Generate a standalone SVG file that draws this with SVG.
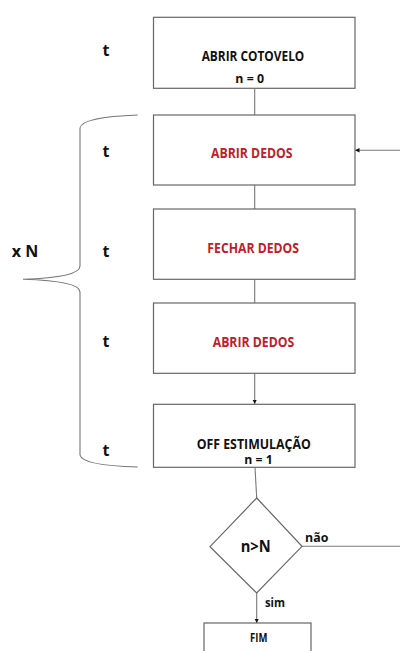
<svg xmlns="http://www.w3.org/2000/svg" width="400" height="651" viewBox="0 0 400 651">
<style>
.box{fill:#fff;stroke:#666;stroke-width:1.2}
.ln{fill:none;stroke:#777;stroke-width:1.1}
.lbl{font-family:"Open Sans","Liberation Sans",sans-serif;font-weight:700;fill:#111;text-anchor:middle}
.red{fill:#c0202a}
.t{font-family:"Open Sans","Liberation Sans",sans-serif;font-weight:700;font-size:16px;fill:#111;text-anchor:middle}
</style>
<defs>
<marker id="ah" viewBox="0 0 8 8" refX="8" refY="4" markerWidth="4.5" markerHeight="4.5" orient="auto" markerUnits="userSpaceOnUse">
<path d="M0,0 L8,4 L0,8 Z" fill="#111"/>
</marker>
</defs>
<rect width="400" height="651" fill="#fff"/>

<g id="connectors">
<line class="ln" x1="254.7" y1="88.3" x2="254.7" y2="115"/>
<line class="ln" x1="254.7" y1="185" x2="254.7" y2="209"/>
<line class="ln" x1="254.7" y1="279.3" x2="254.7" y2="303"/>
<line class="ln" x1="254.7" y1="373.3" x2="254.7" y2="404" marker-end="url(#ah)"/>
<line class="ln" x1="255" y1="467.3" x2="256.7" y2="498"/>
<line class="ln" x1="256.7" y1="593" x2="256.7" y2="623" marker-end="url(#ah)"/>
<line class="ln" x1="302" y1="546.3" x2="400" y2="546.3"/>
<line class="ln" x1="400" y1="150.3" x2="355" y2="150.3" marker-end="url(#ah)"/>
</g>

<g id="brace">
<path class="ln" stroke="#999" stroke-width="1" d="M137.7,115 Q82,117 80,128 L80,266 Q80,277.5 23,279.3 Q80,281 80,292 L80,455 Q82,465.5 137.7,467"/>
<text class="t" x="25" y="256.7" textLength="26.5" lengthAdjust="spacingAndGlyphs">x N</text>
</g>

<g id="t-labels">
<text class="t" x="106" y="55.7">t</text>
<text class="t" x="106" y="157">t</text>
<text class="t" x="106" y="256.5">t</text>
<text class="t" x="106" y="347">t</text>
<text class="t" x="106" y="456">t</text>
</g>

<g id="n1">
<rect class="box" x="153.5" y="17.3" width="201.5" height="71"/>
<text class="lbl" x="253" y="61.3" font-size="13.5" textLength="102.6" lengthAdjust="spacingAndGlyphs">ABRIR COTOVELO</text>
<text class="lbl" x="249.7" y="83.3" font-size="12.5" textLength="28.7" lengthAdjust="spacingAndGlyphs">n = 0</text>
</g>

<g id="n2">
<rect class="box" x="153.5" y="115" width="201.5" height="70"/>
<text class="lbl red" x="251.8" y="158" font-size="13.5" textLength="81.7" lengthAdjust="spacingAndGlyphs">ABRIR DEDOS</text>
</g>

<g id="n3">
<rect class="box" x="153.5" y="209" width="201.5" height="70.3"/>
<text class="lbl red" x="253.2" y="252.6" font-size="13.5" textLength="91.7" lengthAdjust="spacingAndGlyphs">FECHAR DEDOS</text>
</g>

<g id="n4">
<rect class="box" x="153.5" y="303" width="201.5" height="70.3"/>
<text class="lbl red" x="253.5" y="347" font-size="13.5" textLength="81.6" lengthAdjust="spacingAndGlyphs">ABRIR DEDOS</text>
</g>

<g id="n5">
<rect class="box" x="153.5" y="404.3" width="201.5" height="63"/>
<text class="lbl" x="253.7" y="448.6" font-size="13.5" textLength="114" lengthAdjust="spacingAndGlyphs">OFF ESTIMULAÇÃO</text>
<text class="lbl" x="258.5" y="464.3" font-size="12.5" textLength="28.4" lengthAdjust="spacingAndGlyphs">n = 1</text>
</g>

<g id="decision">
<polygon class="box" stroke="#333" points="256.7,498 302,546.3 256.7,593 210,546.7"/>
<text class="lbl" x="255.7" y="551.7" font-size="16.5" textLength="30" lengthAdjust="spacingAndGlyphs">n&gt;N</text>
<text class="lbl" x="316.7" y="542.3" font-size="12" textLength="23.3" lengthAdjust="spacingAndGlyphs">não</text>
<text class="lbl" x="275" y="606.7" font-size="12" textLength="20" lengthAdjust="spacingAndGlyphs">sim</text>
</g>

<g id="fim">
<rect class="box" x="204" y="623" width="107" height="40"/>
<text class="lbl" x="258.7" y="642" font-size="13" textLength="17.3" lengthAdjust="spacingAndGlyphs">FIM</text>
</g>
</svg>
